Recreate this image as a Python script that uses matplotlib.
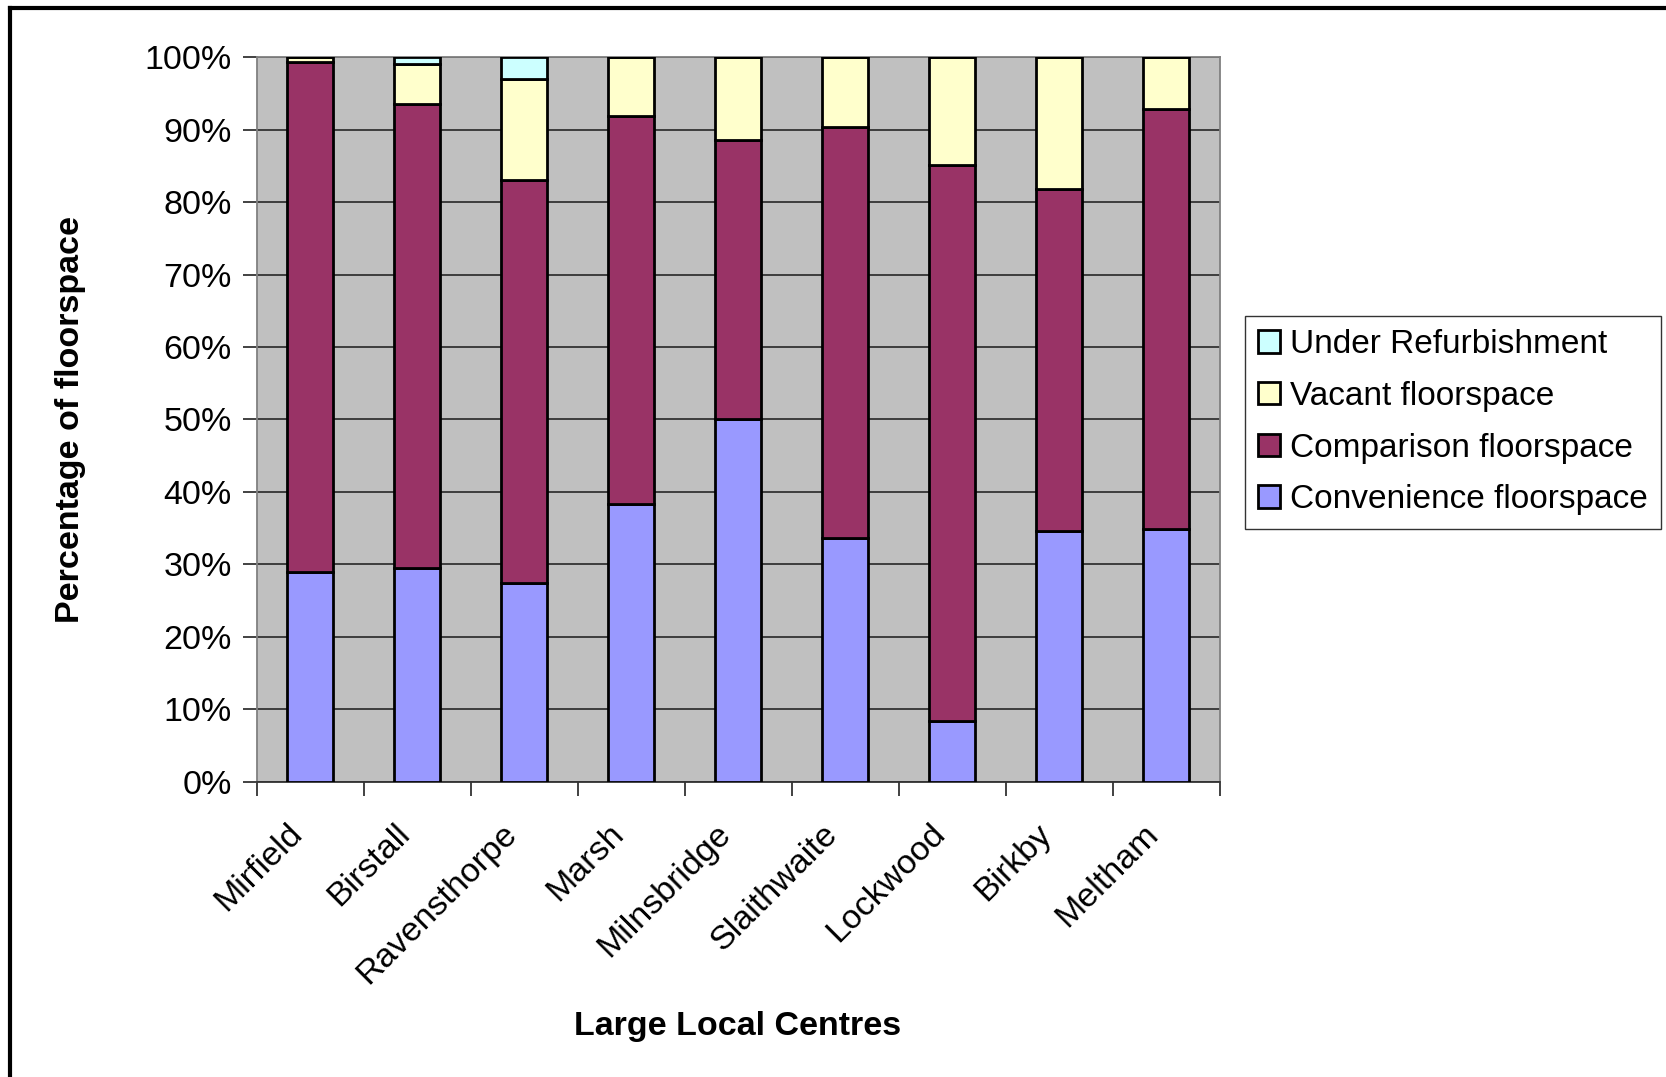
import matplotlib
matplotlib.use("Agg")
import matplotlib.pyplot as plt
from matplotlib.lines import Line2D
from matplotlib.ticker import MultipleLocator, FuncFormatter
from matplotlib.transforms import ScaledTranslation
import numpy as np

plt.rcParams['font.family'] = ['Liberation Sans', 'DejaVu Sans']

centres = ["Mirfield", "Birstall", "Ravensthorpe", "Marsh", "Milnsbridge",
           "Slaithwaite", "Lockwood", "Birkby", "Meltham"]
convenience = [29.0, 29.5, 27.4, 38.4, 50.0, 33.6, 8.4, 34.6, 34.9]
comparison = [70.3, 64.0, 55.6, 53.5, 38.6, 56.8, 76.7, 47.2, 57.9]
vacant = [0.7, 5.5, 14.0, 8.1, 11.4, 9.6, 14.9, 18.2, 7.2]
refurbishment = [0.0, 1.0, 3.0, 0.0, 0.0, 0.0, 0.0, 0.0, 0.0]

series = [
    ("Convenience floorspace", convenience, "#9999FF"),
    ("Comparison floorspace", comparison, "#993366"),
    ("Vacant floorspace", vacant, "#FFFFCC"),
    ("Under Refurbishment", refurbishment, "#CCFFFF"),
]

FS = 24.5

fig = plt.figure(figsize=(16.66, 10.77), dpi=100)
ax = fig.add_axes([0.154, 0.274, 0.578, 0.673])
ax.set_facecolor("#C0C0C0")

x = np.arange(len(centres))
bottom = np.zeros(len(centres))
handles = []
for name, vals, col in series:
    v = np.array(vals)
    bars = ax.bar(x, v, 0.43, bottom=bottom, color=col, edgecolor="black",
                  linewidth=2, label=name, zorder=3)
    handles.append(bars)
    bottom += v

ax.set_xlim(-0.5, len(centres) - 0.5)
ax.set_ylim(0, 100)
ax.yaxis.set_major_locator(MultipleLocator(10))
ax.yaxis.set_major_formatter(FuncFormatter(lambda v, p: f"{int(round(v))}%"))
ax.grid(axis="y", color="#333333", linewidth=1.3, zorder=1)

ax.set_xticks(x)
ax.set_xticklabels(centres, rotation=45, ha="right", va="center",
                   rotation_mode="anchor", fontsize=FS)
ax.tick_params(axis="x", length=0, pad=34)
off = ScaledTranslation(-12 / 100, 0, fig.dpi_scale_trans)
for lbl in ax.get_xticklabels():
    lbl.set_transform(lbl.get_transform() + off)
ax.set_xticks(np.arange(-0.5, len(centres)), minor=True)
ax.tick_params(axis="x", which="minor", length=10, width=1.3, color="#333333")
ax.tick_params(axis="y", labelsize=FS, length=10, width=1.3, color="#333333", pad=8)

for s in ["top", "right", "left"]:
    ax.spines[s].set_color("#808080")
    ax.spines[s].set_linewidth(1.3)
ax.spines["bottom"].set_color("#333333")
ax.spines["bottom"].set_linewidth(1.3)

ax.set_ylabel("Percentage of floorspace", fontsize=FS, fontweight="bold", labelpad=42)
ax.set_xlabel("Large Local Centres", fontsize=FS, fontweight="bold", labelpad=15)

leg = fig.legend(handles[::-1], [s[0] for s in series][::-1], loc="upper left",
                 bbox_to_anchor=(1245 / 1666, 1 - 316 / 1077), fontsize=24,
                 frameon=True, fancybox=False, edgecolor="black",
                 handlelength=0.65, handleheight=0.65, handletextpad=0.3,
                 borderpad=0.4, labelspacing=0.62, borderaxespad=0)
leg.get_frame().set_linewidth(1.0)

# outer chart border (top and left visible)
fig.add_artist(Line2D([10 / 1666, 1.0], [1 - 8 / 1077, 1 - 8 / 1077],
                      transform=fig.transFigure, color="black", linewidth=3))
fig.add_artist(Line2D([10 / 1666, 10 / 1666], [0.0, 1 - 8 / 1077],
                      transform=fig.transFigure, color="black", linewidth=3))

fig.savefig("out.png", dpi=100)
